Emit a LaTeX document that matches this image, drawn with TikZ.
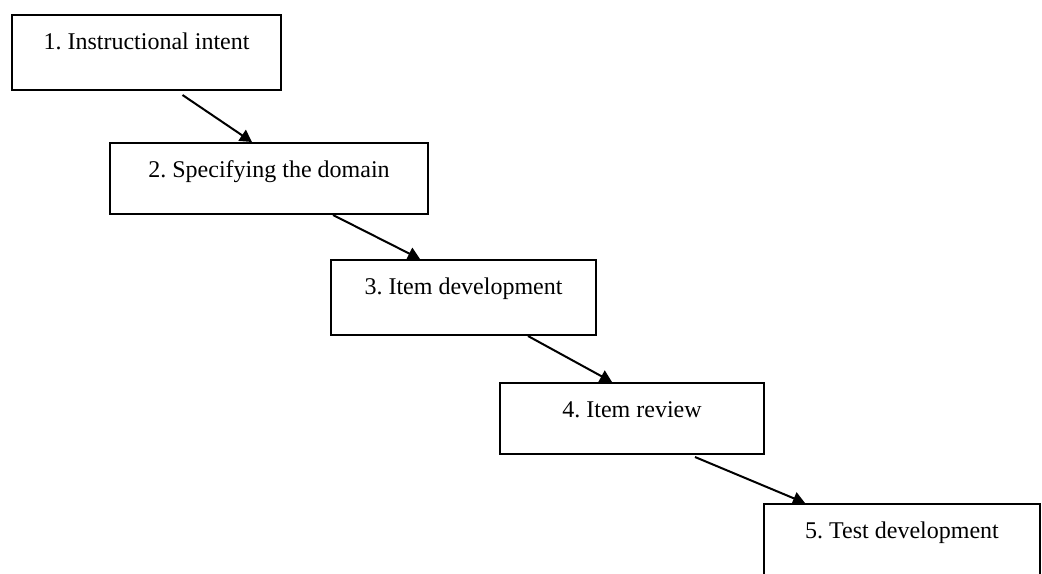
\documentclass[tikz,border=0pt]{standalone}
\usepackage{fontspec}
\setmainfont{Liberation Serif}
\usetikzlibrary{arrows.meta}

\begin{document}
\begin{tikzpicture}[
    x=0.5pt, y=-0.5pt,
    stage/.style={draw, line width=1pt, inner sep=0pt, anchor=north,
      font=\fontsize{12}{14}\selectfont, text height=17pt, text depth=20.5pt},
    short/.style={text depth=18.5pt},
    flow/.style={line width=1pt, -{Triangle[length=6pt, width=6.5pt]}}
  ]
  \useasboundingbox (0,0) rectangle (1042,573);
  % Stages, stepping down to the right
  \node[stage, minimum width=134.5pt]        (intent) at (146.5,14) {1.\ Instructional intent};
  \node[stage, short, minimum width=159pt]   (domain) at (269,142)  {2.\ Specifying the domain};
  \node[stage, minimum width=132.5pt]        (itemdev) at (463.5,259) {3.\ Item development};
  \node[stage, short, minimum width=132pt]   (review) at (632,382)  {4.\ Item review};
  \node[stage, minimum width=138pt]          (testdev) at (902,503) {5.\ Test development};

  % Arrows between stages
  \draw[flow] ([xshift=18pt,yshift=-2pt]intent.south) -- ([xshift=-8.5pt]domain.north);
  \draw[flow] ([xshift=32pt]domain.south) -- ([xshift=-21.75pt]itemdev.north);
  \draw[flow] ([xshift=32.25pt]itemdev.south) -- ([xshift=-10pt]review.north);
  \draw[flow] ([xshift=31.5pt,yshift=-1pt]review.south) -- ([xshift=-48.5pt]testdev.north);
\end{tikzpicture}
\end{document}
